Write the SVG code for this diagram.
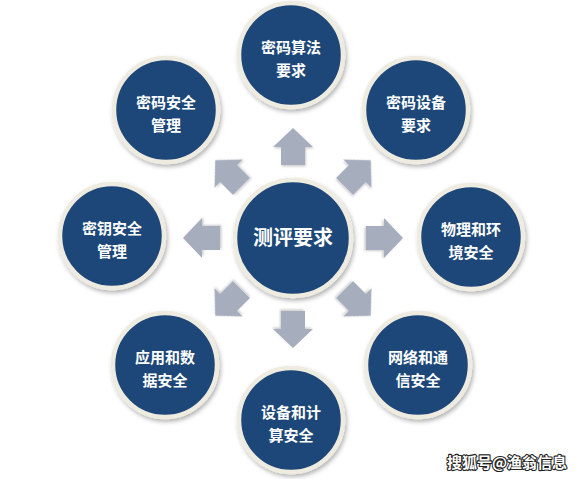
<svg xmlns="http://www.w3.org/2000/svg" width="585" height="479" viewBox="0 0 585 479">
<defs>
<style>
.ring{fill:#1f4678;stroke:#eeebe1;stroke-width:4.5;filter:url(#sh)}
.lbl{font-family:"Noto Sans CJK SC","Noto Sans",sans-serif;font-weight:bold;font-size:15px;fill:#ffffff;text-anchor:middle}
.ctr{font-size:20px}
.arr{fill:#a6adbd;filter:url(#sh2)}
.wm{font-family:"Noto Sans CJK SC",sans-serif;font-weight:bold;font-size:15px;fill:#ffffff;stroke:#222;stroke-width:2.2;paint-order:stroke;stroke-linejoin:round}
</style>
<filter id="sh" x="-20%" y="-20%" width="140%" height="140%">
<feDropShadow dx="1.5" dy="2.5" stdDeviation="2" flood-color="#000" flood-opacity="0.3"/>
</filter>
<filter id="sh2" x="-20%" y="-20%" width="140%" height="140%">
<feDropShadow dx="1" dy="1.5" stdDeviation="1.2" flood-color="#000" flood-opacity="0.2"/>
</filter>
<path id="a" d="M-12,-73 L-12,-91 L-20,-91 L0,-110 L20,-91 L12,-91 L12,-73 Z"/>
</defs>
<rect width="585" height="479" fill="#ffffff"/>
<g id="connectors" transform="translate(293,238)">
<use href="#a" class="arr"/>
<use href="#a" class="arr" transform="rotate(45)"/>
<use href="#a" class="arr" transform="rotate(90)"/>
<use href="#a" class="arr" transform="rotate(135)"/>
<use href="#a" class="arr" transform="rotate(180)"/>
<use href="#a" class="arr" transform="rotate(225)"/>
<use href="#a" class="arr" transform="rotate(270)"/>
<use href="#a" class="arr" transform="rotate(315)"/>
</g>
<g id="center">
<circle class="ring" cx="293" cy="238" r="58"/>
<text class="lbl ctr" x="293" y="245">测评要求</text>
</g>
<g id="n-top">
<circle class="ring" cx="291" cy="55" r="52"/>
<text class="lbl" x="291" y="52.5">密码算法</text>
<text class="lbl" x="291" y="75.5">要求</text>
</g>
<g id="n-tr">
<circle class="ring" cx="416" cy="110" r="52"/>
<text class="lbl" x="416" y="107.5">密码设备</text>
<text class="lbl" x="416" y="130.5">要求</text>
</g>
<g id="n-right">
<circle class="ring" cx="471" cy="237" r="52"/>
<text class="lbl" x="471" y="234.5">物理和环</text>
<text class="lbl" x="471" y="257.5">境安全</text>
</g>
<g id="n-br">
<circle class="ring" cx="418" cy="365" r="52"/>
<text class="lbl" x="418" y="362.5">网络和通</text>
<text class="lbl" x="418" y="385.5">信安全</text>
</g>
<g id="n-bottom">
<circle class="ring" cx="291" cy="420" r="52"/>
<text class="lbl" x="291" y="417.5">设备和计</text>
<text class="lbl" x="291" y="440.5">算安全</text>
</g>
<g id="n-bl">
<circle class="ring" cx="165" cy="365" r="52"/>
<text class="lbl" x="165" y="362.5">应用和数</text>
<text class="lbl" x="165" y="385.5">据安全</text>
</g>
<g id="n-left">
<circle class="ring" cx="112" cy="236" r="52"/>
<text class="lbl" x="112" y="233.5">密钥安全</text>
<text class="lbl" x="112" y="256.5">管理</text>
</g>
<g id="n-tl">
<circle class="ring" cx="166" cy="110" r="52"/>
<text class="lbl" x="166" y="107.5">密码安全</text>
<text class="lbl" x="166" y="130.5">管理</text>
</g>
<text class="wm" x="447" y="468">搜狐号@渔翁信息</text>
</svg>
